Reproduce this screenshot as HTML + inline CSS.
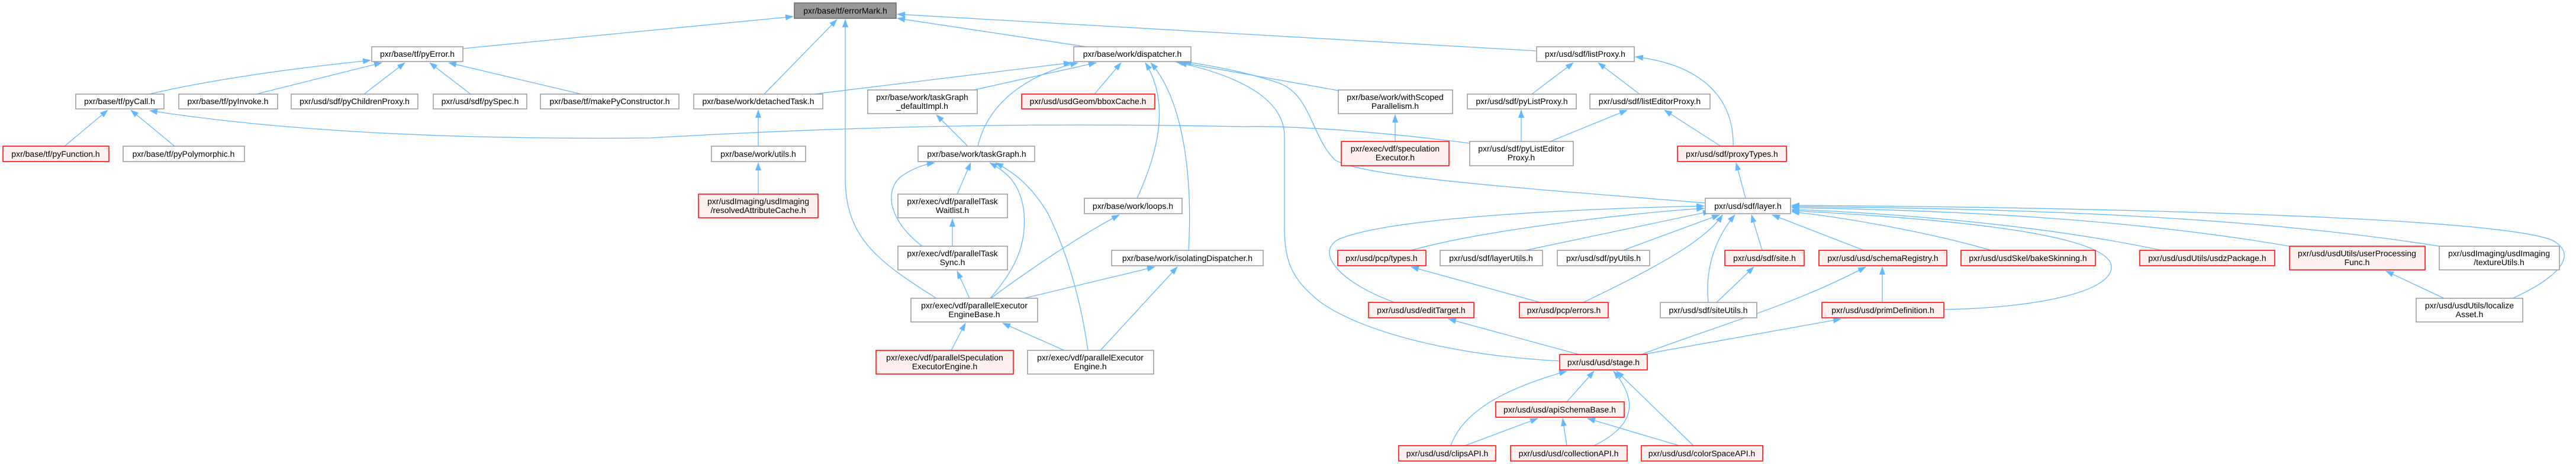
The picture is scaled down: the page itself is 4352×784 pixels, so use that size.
<!DOCTYPE html>
<html><head><meta charset="utf-8"><style>
html,body{margin:0;padding:0;background:#fff;}
svg{display:block;}
text{font-family:"Liberation Sans",sans-serif;font-size:14px;fill:#000;text-anchor:middle;}
.n{fill:#fff;stroke:#999;stroke-width:1.5;}
.r{fill:#FFF0F0;stroke:#FF0000;stroke-width:1.5;}
.g{fill:#999;stroke:#666;stroke-width:1.5;}
path.e{fill:none;stroke:#63B8FF;stroke-width:1.3;}
</style></head><body>
<svg width="4352" height="784" viewBox="0 0 4352 784" xmlns="http://www.w3.org/2000/svg">
<defs><marker id="a" markerWidth="14" markerHeight="10" refX="13" refY="5" orient="auto" markerUnits="userSpaceOnUse"><path d="M0,0 L14,5 L0,10 z" fill="#63B8FF"/></marker></defs>
<g marker-end="url(#a)">
<path class="e" d="M782,82 L1340,28"/>
<path class="e" d="M1291,159 L1414,33"/>
<path class="e" d="M1582,504 C1480,440 1428,400 1428,300 L1428,33"/>
<path class="e" d="M1835,79 L1516,31"/>
<path class="e" d="M2596,86 L1516,24"/>
<path class="e" d="M252,159 Q400,125 626,102"/>
<path class="e" d="M433,159 L645,106"/>
<path class="e" d="M615,159 L684,106"/>
<path class="e" d="M795,159 L726,106"/>
<path class="e" d="M982,159 L758,106"/>
<path class="e" d="M109,247 L182,186"/>
<path class="e" d="M295,247 L221,186"/>
<path class="e" d="M2483,242 C2350,225 2200,212 2100,214 C1800,208 1500,210 1100,233 C800,236 500,225 253,187"/>
<path class="e" d="M1375,159 L1810,106"/>
<path class="e" d="M1645,152 L1852,106"/>
<path class="e" d="M1652,247 C1670,170 1740,125 1821,106"/>
<path class="e" d="M1849,159 L1894,106"/>
<path class="e" d="M1921,335 C1960,250 1975,170 1935,106"/>
<path class="e" d="M2008,423 C2015,300 2000,170 1944,106"/>
<path class="e" d="M2261,153 L1986,104"/>
<path class="e" d="M2881,343 C2600,320 2300,300 2255,270 C2215,230 2215,160 2160,140 C2100,120 2040,110 2000,104"/>
<path class="e" d="M2635,610 C2450,600 2300,560 2230,510 C2180,470 2170,440 2170,380 L2170,230 C2170,170 2100,130 1992,106"/>
<path class="e" d="M1635,247 L1582,194"/>
<path class="e" d="M1281,247 L1281,186"/>
<path class="e" d="M1281,328 L1281,275"/>
<path class="e" d="M1617,328 L1640,275"/>
<path class="e" d="M1558,416 C1510,380 1490,330 1520,300 C1540,285 1560,278 1579,275"/>
<path class="e" d="M1673,504 C1710,460 1735,420 1730,360 C1725,310 1700,290 1672,275"/>
<path class="e" d="M1838,592 C1825,500 1800,420 1770,360 C1740,310 1710,290 1682,275"/>
<path class="e" d="M1609,416 L1609,370"/>
<path class="e" d="M1638,504 L1617,458"/>
<path class="e" d="M1674,504 C1760,440 1840,390 1891,363"/>
<path class="e" d="M1730,504 L1951,451"/>
<path class="e" d="M1859,592 L1989,451"/>
<path class="e" d="M1607,592 L1631,546"/>
<path class="e" d="M1798,592 L1694,546"/>
<path class="e" d="M2357,239 L2357,194"/>
<path class="e" d="M2588,159 L2658,106"/>
<path class="e" d="M2770,159 L2700,106"/>
<path class="e" d="M2928,247 C2930,170 2880,110 2763,96"/>
<path class="e" d="M2570,239 L2570,186"/>
<path class="e" d="M2619,239 L2749,186"/>
<path class="e" d="M2907,247 L2812,186"/>
<path class="e" d="M2949,335 L2933,275"/>
<path class="e" d="M2384,423 C2500,390 2750,360 2879,352"/>
<path class="e" d="M2577,423 L2890,357"/>
<path class="e" d="M2742,423 L2905,363"/>
<path class="e" d="M2356,511 C2270,480 2220,430 2260,405 C2350,365 2700,352 2879,348"/>
<path class="e" d="M2675,511 C2780,460 2880,410 2910,363"/>
<path class="e" d="M2886,511 C2880,450 2900,400 2931,363"/>
<path class="e" d="M2977,423 L2959,363"/>
<path class="e" d="M3149,423 L2994,363"/>
<path class="e" d="M3364,423 C3250,390 3100,365 3027,358"/>
<path class="e" d="M3652,423 C3450,380 3200,360 3027,354"/>
<path class="e" d="M3868,416 C3600,370 3300,355 3027,351"/>
<path class="e" d="M4121,416 C3800,365 3400,352 3027,349"/>
<path class="e" d="M4245,504 C4320,470 4360,430 4310,405 C4200,365 3500,350 3027,347"/>
<path class="e" d="M3284,523 C3450,520 3580,490 3566,445 C3545,395 3300,370 3027,356"/>
<path class="e" d="M2602,511 L2384,451"/>
<path class="e" d="M2900,511 L2963,451"/>
<path class="e" d="M3180,511 L3180,451"/>
<path class="e" d="M2773,599 C2900,550 3020,520 3152,451"/>
<path class="e" d="M2775,599 L3110,539"/>
<path class="e" d="M2668,599 L2447,539"/>
<path class="e" d="M2647,679 L2693,627"/>
<path class="e" d="M2451,753 C2470,700 2530,660 2647,627"/>
<path class="e" d="M2693,753 C2760,720 2770,680 2726,627"/>
<path class="e" d="M2861,753 L2731,627"/>
<path class="e" d="M2475,753 L2598,707"/>
<path class="e" d="M2647,753 L2640,707"/>
<path class="e" d="M2837,753 L2682,707"/>
<path class="e" d="M4129,504 L4031,458"/>
</g>

<!-- nodes -->
<rect class="g" x="1342" y="5" width="172" height="26"/><text x="1428" y="23">pxr/base/tf/errorMark.h</text>
<rect class="n" x="628" y="79" width="154" height="25"/><text x="705" y="96">pxr/base/tf/pyError.h</text>
<rect class="n" x="1814" y="79" width="198" height="25"/><text x="1913" y="96">pxr/base/work/dispatcher.h</text>
<rect class="n" x="2596" y="79" width="165" height="25"/><text x="2678" y="96">pxr/usd/sdf/listProxy.h</text>

<rect class="n" x="128" y="159" width="149" height="25"/><text x="202" y="176">pxr/base/tf/pyCall.h</text>
<rect class="n" x="302" y="159" width="167" height="25"/><text x="385" y="176">pxr/base/tf/pyInvoke.h</text>
<rect class="n" x="492" y="159" width="214" height="25"/><text x="599" y="176">pxr/usd/sdf/pyChildrenProxy.h</text>
<rect class="n" x="732" y="159" width="158" height="25"/><text x="811" y="176">pxr/usd/sdf/pySpec.h</text>
<rect class="n" x="913" y="159" width="234" height="25"/><text x="1030" y="176">pxr/base/tf/makePyConstructor.h</text>
<rect class="n" x="1172" y="159" width="218" height="25"/><text x="1281" y="176">pxr/base/work/detachedTask.h</text>
<rect class="n" x="1466" y="152" width="185" height="40"/><text x="1558" y="169">pxr/base/work/taskGraph</text><text x="1558" y="184">_defaultImpl.h</text>
<rect class="r" x="1726" y="159" width="225" height="25"/><text x="1838" y="176">pxr/usd/usdGeom/bboxCache.h</text>
<rect class="n" x="2261" y="152" width="193" height="40"/><text x="2357" y="169">pxr/base/work/withScoped</text><text x="2357" y="184">Parallelism.h</text>
<rect class="n" x="2479" y="159" width="184" height="25"/><text x="2571" y="176">pxr/usd/sdf/pyListProxy.h</text>
<rect class="n" x="2686" y="159" width="203" height="25"/><text x="2787" y="176">pxr/usd/sdf/listEditorProxy.h</text>

<rect class="r" x="5" y="247" width="179" height="26"/><text x="94" y="265">pxr/base/tf/pyFunction.h</text>
<rect class="n" x="208" y="247" width="205" height="26"/><text x="310" y="265">pxr/base/tf/pyPolymorphic.h</text>
<rect class="n" x="1202" y="247" width="159" height="26"/><text x="1281" y="265">pxr/base/work/utils.h</text>
<rect class="n" x="1551" y="247" width="197" height="26"/><text x="1650" y="265">pxr/base/work/taskGraph.h</text>
<rect class="r" x="2266" y="239" width="182" height="41"/><text x="2357" y="256">pxr/exec/vdf/speculation</text><text x="2357" y="271">Executor.h</text>
<rect class="n" x="2483" y="239" width="175" height="41"/><text x="2570" y="256">pxr/usd/sdf/pyListEditor</text><text x="2570" y="271">Proxy.h</text>
<rect class="r" x="2834" y="247" width="184" height="26"/><text x="2926" y="265">pxr/usd/sdf/proxyTypes.h</text>

<rect class="r" x="1180" y="328" width="202" height="40"/><text x="1281" y="345">pxr/usdImaging/usdImaging</text><text x="1281" y="360">/resolvedAttributeCache.h</text>
<rect class="n" x="1517" y="328" width="185" height="40"/><text x="1609" y="345">pxr/exec/vdf/parallelTask</text><text x="1609" y="360">Waitlist.h</text>
<rect class="n" x="1832" y="335" width="165" height="26"/><text x="1914" y="353">pxr/base/work/loops.h</text>
<rect class="n" x="2881" y="335" width="144" height="26"/><text x="2953" y="353">pxr/usd/sdf/layer.h</text>

<rect class="n" x="1517" y="416" width="185" height="40"/><text x="1609" y="433">pxr/exec/vdf/parallelTask</text><text x="1609" y="448">Sync.h</text>
<rect class="n" x="1878" y="423" width="256" height="26"/><text x="2006" y="441">pxr/base/work/isolatingDispatcher.h</text>
<rect class="r" x="2260" y="423" width="149" height="26"/><text x="2334" y="441">pxr/usd/pcp/types.h</text>
<rect class="n" x="2433" y="423" width="173" height="26"/><text x="2519" y="441">pxr/usd/sdf/layerUtils.h</text>
<rect class="n" x="2631" y="423" width="156" height="26"/><text x="2709" y="441">pxr/usd/sdf/pyUtils.h</text>
<rect class="r" x="2914" y="423" width="134" height="26"/><text x="2981" y="441">pxr/usd/sdf/site.h</text>
<rect class="r" x="3073" y="423" width="216" height="26"/><text x="3181" y="441">pxr/usd/usd/schemaRegistry.h</text>
<rect class="r" x="3313" y="423" width="227" height="26"/><text x="3426" y="441">pxr/usd/usdSkel/bakeSkinning.h</text>
<rect class="r" x="3615" y="423" width="228" height="26"/><text x="3729" y="441">pxr/usd/usdUtils/usdzPackage.h</text>
<rect class="r" x="3868" y="416" width="229" height="40"/><text x="3982" y="433">pxr/usd/usdUtils/userProcessing</text><text x="3982" y="448">Func.h</text>
<rect class="n" x="4121" y="416" width="203" height="40"/><text x="4222" y="433">pxr/usdImaging/usdImaging</text><text x="4222" y="448">/textureUtils.h</text>

<rect class="n" x="1539" y="504" width="214" height="40"/><text x="1646" y="521">pxr/exec/vdf/parallelExecutor</text><text x="1646" y="536">EngineBase.h</text>
<rect class="r" x="2312" y="511" width="178" height="26"/><text x="2401" y="529">pxr/usd/usd/editTarget.h</text>
<rect class="r" x="2567" y="511" width="150" height="26"/><text x="2642" y="529">pxr/usd/pcp/errors.h</text>
<rect class="n" x="2805" y="511" width="163" height="26"/><text x="2886" y="529">pxr/usd/sdf/siteUtils.h</text>
<rect class="r" x="3078" y="511" width="206" height="26"/><text x="3181" y="529">pxr/usd/usd/primDefinition.h</text>
<rect class="n" x="4082" y="504" width="180" height="40"/><text x="4172" y="521">pxr/usd/usdUtils/localize</text><text x="4172" y="536">Asset.h</text>

<rect class="r" x="1480" y="592" width="232" height="40"/><text x="1596" y="609">pxr/exec/vdf/parallelSpeculation</text><text x="1596" y="624">ExecutorEngine.h</text>
<rect class="n" x="1736" y="592" width="213" height="40"/><text x="1842" y="609">pxr/exec/vdf/parallelExecutor</text><text x="1842" y="624">Engine.h</text>
<rect class="r" x="2635" y="599" width="148" height="26"/><text x="2709" y="617">pxr/usd/usd/stage.h</text>
<rect class="r" x="2527" y="679" width="217" height="26"/><text x="2635" y="697">pxr/usd/usd/apiSchemaBase.h</text>
<rect class="r" x="2363" y="753" width="164" height="26"/><text x="2445" y="771">pxr/usd/usd/clipsAPI.h</text>
<rect class="r" x="2552" y="753" width="197" height="26"/><text x="2650" y="771">pxr/usd/usd/collectionAPI.h</text>
<rect class="r" x="2773" y="753" width="205" height="26"/><text x="2875" y="771">pxr/usd/usd/colorSpaceAPI.h</text>
</svg>
</body></html>
